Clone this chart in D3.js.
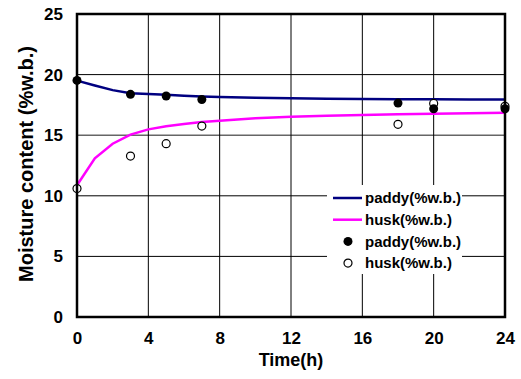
<!DOCTYPE html>
<html>
<head>
<meta charset="utf-8">
<script src="https://cdn.jsdelivr.net/npm/d3@7"></script>
<style>
  body { margin: 0; background: #fff; }
  svg { display: block; font-family: "Liberation Sans", Arial, sans-serif; font-weight: bold; }
</style>
</head>
<body>
<svg id="chart" width="521" height="379"></svg>
<script>
// model curves (hours)
var lineHours = [0, 1, 2, 3, 4, 5, 6, 7, 8, 10, 12, 14, 16, 18, 20, 22, 24];
var paddyLine = [19.5, 19.1, 18.72, 18.47, 18.4, 18.33, 18.25, 18.2, 18.15, 18.08, 18.04, 18.01, 17.99, 17.97, 17.96, 17.95, 17.94];
var huskLine  = [10.87, 13.1, 14.3, 15.05, 15.48, 15.74, 15.93, 16.08, 16.2, 16.4, 16.52, 16.6, 16.67, 16.72, 16.78, 16.82, 16.86];

// measured points
var pointHours = [0, 3, 5, 7, 18, 20, 24];
var paddyPts = [19.52, 18.37, 18.23, 17.95, 17.65, 17.18, 17.18];
var huskPts  = [10.6, 13.28, 14.3, 15.75, 15.9, 17.62, 17.38];

var xTicks = [0, 4, 8, 12, 16, 20, 24];
var yTicks = [0, 5, 10, 15, 20, 25];

var legendItems = [
  { label: "paddy(%w.b.)", kind: "line", color: "#000080" },
  { label: "husk(%w.b.)", kind: "line", color: "#ff00ff" },
  { label: "paddy(%w.b.)", kind: "dot", fill: "#000" },
  { label: "husk(%w.b.)", kind: "dot", fill: "#fff" }
];

var svg = d3.select("#chart");
var margin = { left: 77, right: 16, top: 14, bottom: 62 };
var width = 521 - margin.left - margin.right,
    height = 379 - margin.top - margin.bottom;

var x = d3.scaleLinear().domain([0, 24]).range([margin.left, margin.left + width]);
var y = d3.scaleLinear().domain([0, 25]).range([margin.top + height, margin.top]);

// grid
svg.append("g")
  .selectAll("line.h")
  .data(yTicks.slice(1, -1))
  .enter().append("line")
    .attr("x1", x(0)).attr("x2", x(24))
    .attr("y1", function(d) { return y(d); })
    .attr("y2", function(d) { return y(d); })
    .attr("stroke", function(d) { return d == 15 ? "#666" : "#000"; })
    .attr("stroke-width", function(d) { return d == 15 ? 1.5 : 1; });

svg.append("g")
  .selectAll("line.v")
  .data(xTicks.slice(1, -1))
  .enter().append("line")
    .attr("y1", y(0)).attr("y2", y(25))
    .attr("x1", function(d) { return x(d); })
    .attr("x2", function(d) { return x(d); })
    .attr("stroke", "#000")
    .attr("stroke-width", 1);

// axes (labels only, ticks come from grid)
var xAxis = svg.append("g")
    .attr("transform", "translate(0," + (margin.top + height) + ")")
    .call(d3.axisBottom(x).tickValues(xTicks).tickSize(0).tickPadding(15));
var yAxis = svg.append("g")
    .attr("transform", "translate(" + margin.left + ",0)")
    .call(d3.axisLeft(y).tickValues(yTicks).tickSize(0).tickPadding(14));
[xAxis, yAxis].forEach(function(a) {
  a.select(".domain").remove();
  a.selectAll("text")
    .attr("font-family", "Liberation Sans, Arial, sans-serif")
    .attr("font-weight", "bold")
    .attr("font-size", 17)
    .attr("fill", "#000");
});

// legend box (white, covers grid)
var lg = svg.append("g").attr("transform", "translate(327,185)");
lg.append("rect")
    .attr("width", 135).attr("height", 89)
    .attr("fill", "#fff");

// curves
var line = d3.line()
    .x(function(d) { return x(d[0]); })
    .y(function(d) { return y(d[1]); });

svg.append("path")
    .datum(d3.zip(lineHours, paddyLine))
    .attr("d", line)
    .attr("fill", "none")
    .attr("stroke", "#000080")
    .attr("stroke-width", 2.5);

svg.append("path")
    .datum(d3.zip(lineHours, huskLine))
    .attr("d", line)
    .attr("fill", "none")
    .attr("stroke", "#ff00ff")
    .attr("stroke-width", 2.5);

// points
svg.append("g")
  .selectAll("circle")
  .data(d3.zip(pointHours, huskPts))
  .enter().append("circle")
    .attr("cx", function(d) { return x(d[0]); })
    .attr("cy", function(d) { return y(d[1]); })
    .attr("r", 4)
    .attr("fill", "#fff")
    .attr("stroke", "#000")
    .attr("stroke-width", 1.2);

svg.append("g")
  .selectAll("circle")
  .data(d3.zip(pointHours, paddyPts))
  .enter().append("circle")
    .attr("cx", function(d) { return x(d[0]); })
    .attr("cy", function(d) { return y(d[1]); })
    .attr("r", 4.5)
    .attr("fill", "#000");

// plot frame
svg.append("rect")
    .attr("x", x(0)).attr("y", y(25))
    .attr("width", x(24) - x(0)).attr("height", y(0) - y(25))
    .attr("fill", "none")
    .attr("stroke", "#000")
    .attr("stroke-width", 2.5);

// legend entries
var rows = lg.selectAll("g.item")
  .data(legendItems)
  .enter().append("g")
    .attr("transform", function(d, i) { return "translate(0," + (13 + i * 21.7) + ")"; });

rows.filter(function(d) { return d.kind == "line"; })
  .append("line")
    .attr("x1", 6).attr("x2", 35)
    .attr("stroke", function(d) { return d.color; })
    .attr("stroke-width", 2.5);

rows.filter(function(d) { return d.kind == "dot"; })
  .append("circle")
    .attr("cx", 21).attr("r", function(d) { return d.fill == "#000" ? 4.5 : 4; })
    .attr("fill", function(d) { return d.fill; })
    .attr("stroke", "#000")
    .attr("stroke-width", function(d) { return d.fill == "#000" ? 0 : 1.2; });

rows.append("text")
    .attr("x", 38)
    .attr("dy", "0.35em")
    .attr("font-size", 15)
    .text(function(d) { return d.label; });

// axis titles
svg.append("text")
    .attr("x", (x(0) + x(24)) / 2)
    .attr("y", 366)
    .attr("text-anchor", "middle")
    .attr("font-size", 18)
    .text("Time(h)");

svg.append("text")
    .attr("transform", "translate(33,164) rotate(-90)")
    .attr("text-anchor", "middle")
    .attr("font-size", 20)
    .text("Moisture content (%w.b.)");
</script>
</body>
</html>
